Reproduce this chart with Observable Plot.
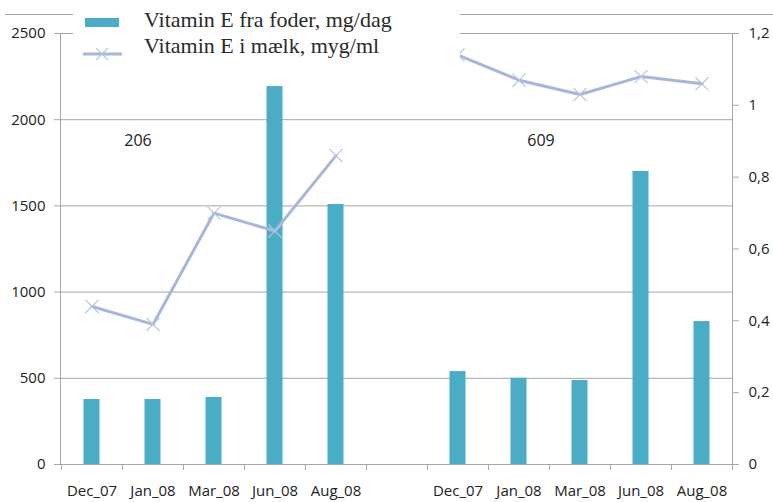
<!DOCTYPE html>
<html>
<head>
<meta charset="utf-8">
<script src="https://cdn.jsdelivr.net/npm/d3@7"></script>
<script src="https://cdn.jsdelivr.net/npm/@observablehq/plot@0.6"></script>
<style>
  html, body { margin: 0; padding: 0; background: #fff; }
  #wrap { position: relative; width: 773px; height: 502px; overflow: hidden; }
  #topline { position: absolute; left: 5px; top: 14px; width: 768px; height: 1px; background: #a6a6a6; }
  #legend { position: absolute; left: 73px; top: 8px; width: 387px; height: 54px; background: #fff;
            font-family: "Liberation Serif", serif; font-size: 22px; color: #2a2a2a; }
  #legend .lab { position: absolute; left: 71px; white-space: nowrap; }
</style>
</head>
<body>
<div id="wrap">
  <div id="chart"></div>
  <div id="topline"></div>
  <div id="legend"></div>
</div>
<script>
// ---- data ----
const months = ["Dec_07", "Jan_08", "Mar_08", "Jun_08", "Aug_08"];
const groups = ["206", "609"];
const foder206 = [377, 377, 389, 2192, 1508];   // Vitamin E fra foder, mg/dag
const foder609 = [539, 500, 487, 1700, 829];
const maelk206 = [0.44, 0.39, 0.70, 0.65, 0.86]; // Vitamin E i mælk, myg/ml
const maelk609 = [1.14, 1.07, 1.03, 1.08, 1.06];
const leftTicks = [0, 500, 1000, 1500, 2000, 2500];
const rightTicks = [0, 0.2, 0.4, 0.6, 0.8, 1, 1.2];
const seriesNames = ["Vitamin E fra foder, mg/dag", "Vitamin E i mælk, myg/ml"];

const leftMax = 2500, rightMax = 1.2;
const k = leftMax / rightMax;

const slots = [...months.map(m => "206 " + m), "gap", ...months.map(m => "609 " + m)];
const foder = {"206": foder206, "609": foder609};
const maelk = {"206": maelk206, "609": maelk609};
const rows = groups.flatMap(g => months.map((m, i) => ({
  group: g, slot: g + " " + m, foder: foder[g][i], maelk: maelk[g][i]
})));

// ---- layout ----
const W = 773, H = 502, mL = 60, mR = 41, mT = 33, mB = 38;
const slotW = (W - mL - mR) / slots.length;

const barColor = "#4bacc6";
const lineColor = "#a7b7d7";
const markColor = "#b9c6e0";
const gridColor = "#a6a6a6";
const textColor = "#222";
const font = "'Open Sans', sans-serif";

const chart = Plot.plot({
  width: W, height: H,
  marginLeft: mL, marginRight: mR, marginTop: mT, marginBottom: mB,
  style: {fontFamily: font, fontSize: "15px", color: textColor, background: "transparent"},
  x: {type: "band", domain: slots, padding: 0, axis: null},
  y: {domain: [0, leftMax], axis: null},
  marks: [
    Plot.gridY(leftTicks, {stroke: gridColor, strokeOpacity: 1}),
    Plot.frame({stroke: gridColor}),
    // left axis
    Plot.axisY({anchor: "left", label: null, ticks: leftTicks, tickSize: 6, tickPadding: 9,
                stroke: gridColor, fill: textColor, tickFormat: d => String(d)}),
    // right axis (scaled)
    Plot.axisY({anchor: "right", label: null, ticks: rightTicks.map(v => v * k), tickSize: 6, tickPadding: 10,
                stroke: gridColor, fill: textColor,
                tickFormat: d => String(+(d / k).toFixed(1)).replace(".", ",")}),
    // x ticks at slot boundaries
    Plot.axisX({label: null, ticks: slots, tickSize: 6, dx: -slotW / 2, tickFormat: () => "", stroke: gridColor}),
    Plot.axisX({label: null, ticks: [slots[slots.length - 1]], tickSize: 6, dx: slotW / 2, tickFormat: () => "", stroke: gridColor}),
    // x labels
    Plot.axisX({label: null, ticks: slots, tickSize: 0, tickPadding: 21, fill: textColor,
                tickFormat: d => d === "gap" ? "" : d.split(" ")[1]}),
    // bars
    Plot.barY(rows, {x: "slot", y: "foder", fill: barColor, insetLeft: 22.5, insetRight: 22.5}),
    // line (right axis)
    Plot.line(rows, {x: "slot", y: d => d.maelk * k, z: "group", stroke: lineColor, strokeWidth: 3}),
    Plot.dot(rows, {x: "slot", y: d => d.maelk * k, symbol: "times", r: 6, stroke: markColor, strokeWidth: 1.2}),
    // group labels
    Plot.text([groups[0]], {x: () => "206 Jan_08", text: d => d, frameAnchor: "top", dy: 107, dx: -15,
                            lineAnchor: "middle", fontSize: 16, fill: textColor}),
    Plot.text([groups[1]], {x: () => "609 Jan_08", text: d => d, frameAnchor: "top", dy: 107, dx: 22,
                            lineAnchor: "middle", fontSize: 16, fill: textColor})
  ]
});
document.getElementById("chart").appendChild(chart);

// ---- legend overlay ----
const legend = document.getElementById("legend");
legend.innerHTML = `
  <svg width="60" height="54" style="position:absolute;left:0;top:0">
    <rect x="12" y="10" width="34" height="9" fill="${barColor}"></rect>
    <line x1="10" x2="49" y1="46" y2="46" stroke="${lineColor}" stroke-width="3"></line>
    <path d="M23,40 L35,52 M35,40 L23,52" stroke="${markColor}" stroke-width="1.2" fill="none"></path>
  </svg>
  <div class="lab" style="top:-1px">${seriesNames[0]}</div>
  <div class="lab" style="top:25px">${seriesNames[1]}</div>`;
</script>
</body>
</html>
